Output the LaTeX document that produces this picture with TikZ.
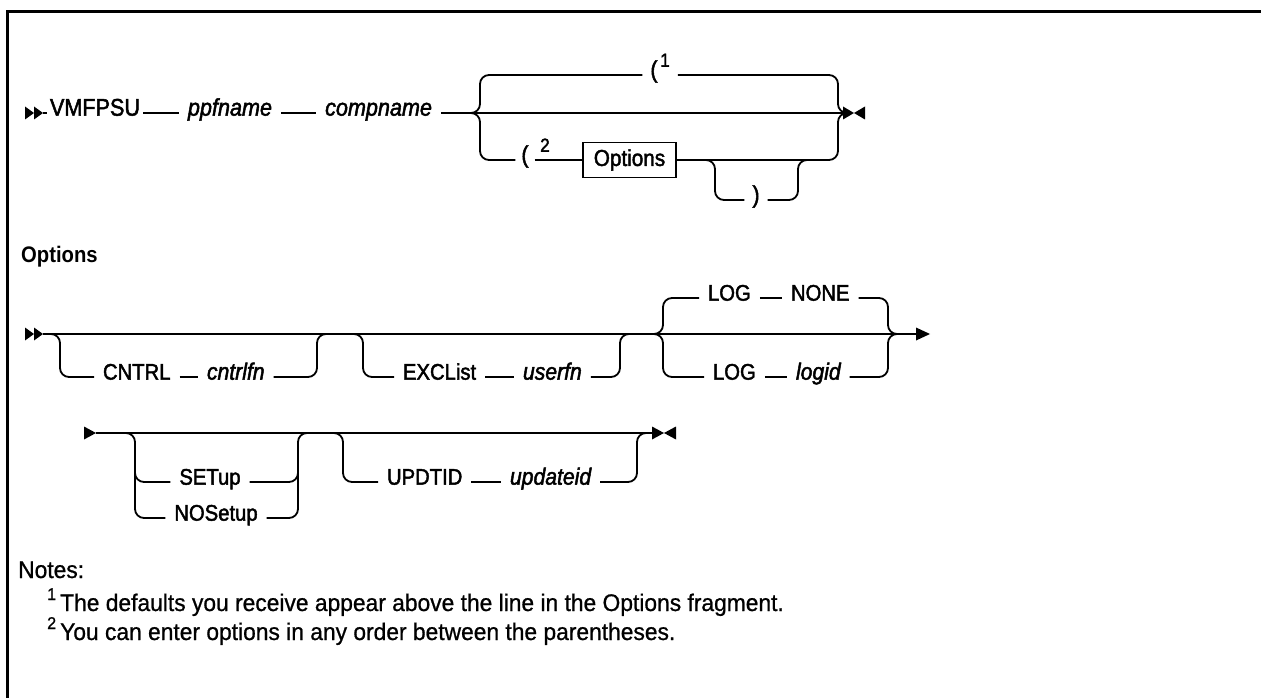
\documentclass[tikz,border=0pt]{standalone}
\usepackage{fontspec}
\setmainfont{Liberation Sans}
\newfontfamily\dfont{Liberation Sans}[FakeStretch=0.9, FakeBold=2]
\newfontfamily\hfont{Liberation Sans}[FakeStretch=0.9]
\newfontfamily\nfont{Liberation Sans}[FakeStretch=0.95, FakeBold=0.8]
\usetikzlibrary{calc}
\tikzset{
  rr/.style={line width=1.8pt, rounded corners=9pt},
  kw/.style={font=\dfont\fontsize{22.5}{26}\selectfont, inner xsep=9pt, inner ysep=0pt, outer sep=0pt},
  kwA/.style={kw, font=\dfont\fontsize{24}{26}\selectfont},
  var/.style={kw, font=\dfont\fontsize{23.5}{26}\selectfont\itshape},
  varA/.style={kw, font=\dfont\fontsize{24}{26}\selectfont\itshape},
  sup/.style={font=\dfont\fontsize{19}{20}\selectfont, inner ysep=0pt},
  note/.style={font=\nfont\fontsize{24}{28}\selectfont, inner sep=0pt, anchor=base west},
  heading/.style={font=\hfont\bfseries\fontsize{22.5}{26}\selectfont, inner sep=0pt, anchor=base west},
  optbox/.style={draw, line width=1.3pt, minimum width=93pt, minimum height=35pt, inner sep=0pt, font=\dfont\fontsize{23}{26}\selectfont},
}
\begin{document}
\begin{tikzpicture}[x=1pt,y=-1pt]
\useasboundingbox (0,0) rectangle (1261,698);
\draw[line width=3pt] (7,699) -- (7,12) -- (1262,12);

% ---------- row 1 ----------
\fill (25,106.5) -- (34,113) -- (25,119.5) -- cycle;
\fill (34,106.5) -- (43,113) -- (34,119.5) -- cycle;
\coordinate (st1) at (43,113);
\node[kwA, inner xsep=3pt, anchor=mid west] (vm) at (47,113) {VMFPSU};
\node[varA, anchor=mid] (pp) at (230,113) {ppfname};
\node[varA, anchor=mid east] (cn) at (441,113) {compname};
\coordinate (e1) at (843,113);
\coordinate (jl1) at (480,113);
\coordinate (jr1) at (838,113);
\draw[rr] (st1) -- (vm.mid west);
\draw[rr] (vm.mid east) -- (pp.mid west);
\draw[rr] (pp.mid east) -- (cn.mid west);
\draw[rr] (cn.mid east) -- (e1);

\node[kwA, inner xsep=8pt, anchor=mid] (lpA) at (654,75) {(};
\node[sup, inner xsep=8pt, anchor=south west] (n1) at (652,67) {1};
\node[kwA, inner xsep=6pt, anchor=mid] (lpB) at (525,160) {(};
\node[sup, inner sep=0pt, anchor=south west] (n2) at (540,152) {2};
\node[optbox] (opt) at (629.5,160) {Options};
\node[kwA, inner xsep=8pt, anchor=mid] (rp) at (756,200) {)};

\draw[rr] ($(jl1)+(-10,0)$) -- (jl1) -- (480,75) -- (lpA.mid west);
\draw[rr] (n1.east |- lpA.mid) -- (838,75) -- (jr1) -- (e1);
\draw[rr] ($(jl1)+(-10,0)$) -- (jl1) -- (480,160) -- (lpB.mid west);
\draw[rr] (lpB.mid east) -- (opt.west);
\draw[rr] (opt.east) -- (838,160) -- (jr1) -- (e1);
\draw[rr] (705,160) -- (715,160) -- (715,200) -- (rp.mid west);
\draw[rr] (rp.mid east) -- (798,200) -- (798,160) -- (808,160);

\fill (843,106.5) -- (854,113) -- (843,119.5) -- cycle;
\fill (865,106.5) -- (854,113) -- (865,119.5) -- cycle;

% ---------- heading ----------
\node[heading] (hdr) at (21,262) {Options};

% ---------- row 2 ----------
\fill (25,327.5) -- (34,334) -- (25,340.5) -- cycle;
\fill (34,327.5) -- (43,334) -- (34,340.5) -- cycle;
\coordinate (st2) at (43,334);
\coordinate (e2) at (918,334);
\draw[rr] (st2) -- (e2);
\fill (916,327.5) -- (930,334) -- (916,340.5) -- cycle;

\node[kw, anchor=mid west] (cntrl) at (94,377) {CNTRL};
\node[var, anchor=mid west] (cfn) at (198,377) {cntrlfn};
\draw[rr] (50,334) -- (60,334) -- (60,377) -- (cntrl.mid west);
\draw[rr] (cntrl.mid east) -- (cfn.mid west);
\draw[rr] (cfn.mid east) -- (317,377) -- (317,334) -- (327,334);

\node[kw, anchor=mid west] (excl) at (394,377) {EXCList};
\node[var, anchor=mid west] (ufn) at (514,377) {userfn};
\draw[rr] (353,334) -- (363,334) -- (363,377) -- (excl.mid west);
\draw[rr] (excl.mid east) -- (ufn.mid west);
\draw[rr] (ufn.mid east) -- (620,377) -- (620,334) -- (630,334);

\node[kw, anchor=mid west] (logA) at (699,298) {LOG};
\node[kw, anchor=mid west] (none) at (782,298) {NONE};
\node[kw, anchor=mid west] (logB) at (704,377) {LOG};
\node[var, anchor=mid west] (lgid) at (787,377) {logid};
\draw[rr] (653,334) -- (663,334) -- (663,298) -- (logA.mid west);
\draw[rr] (logA.mid east) -- (none.mid west);
\draw[rr] (none.mid east) -- (888,298) -- (888,334) -- (898,334);
\draw[rr] (653,334) -- (663,334) -- (663,377) -- (logB.mid west);
\draw[rr] (logB.mid east) -- (lgid.mid west);
\draw[rr] (lgid.mid east) -- (888,377) -- (888,334) -- (898,334);

% ---------- row 3 ----------
\fill (84,426.5) -- (96,433) -- (84,439.5) -- cycle;
\coordinate (st3) at (96,433);
\coordinate (e3) at (652,433);
\draw[rr] (st3) -- (e3);
\fill (652,426.5) -- (664,433) -- (652,439.5) -- cycle;
\fill (676,426.5) -- (664,433) -- (676,439.5) -- cycle;

\node[kw, anchor=mid] (setup) at (210,482) {SETup};
\node[kw, anchor=mid] (nosetup) at (216,518) {NOSetup};
\draw[rr] (125,433) -- (135,433) -- (135,518) -- (nosetup.mid west);
\draw[rr] (135,465) -- (135,482) -- (setup.mid west);
\draw[rr] (nosetup.mid east) -- (298,518) -- (298,433) -- (308,433);
\draw[rr] (setup.mid east) -- (298,482) -- (298,465);

\node[kw, anchor=mid west] (updt) at (378,482) {UPDTID};
\node[var, anchor=mid west] (upid) at (501,482) {updateid};
\draw[rr] (333,433) -- (343,433) -- (343,482) -- (updt.mid west);
\draw[rr] (updt.mid east) -- (upid.mid west);
\draw[rr] (upid.mid east) -- (637,482) -- (637,433) -- (647,433);

% ---------- notes ----------
\node[note] (nt) at (18,578) {Notes:};
\node[note, font=\nfont\fontsize{17}{18}\selectfont] (f1) at (47,600) {1};
\node[note] (t1) at (60,611) {The defaults you receive appear above the line in the Options fragment.};
\node[note, font=\nfont\fontsize{17}{18}\selectfont] (f2) at (47,629) {2};
\node[note] (t2) at (60,640) {You can enter options in any order between the parentheses.};
\end{tikzpicture}
\end{document}
